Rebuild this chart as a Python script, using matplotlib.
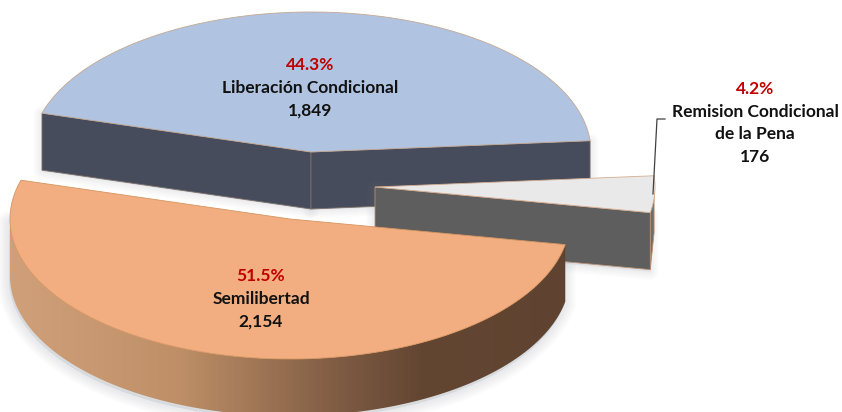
import numpy as np
import matplotlib
matplotlib.use("Agg")
import matplotlib.pyplot as plt
from matplotlib.patches import Polygon
from matplotlib.colors import LinearSegmentedColormap

categories = ["Liberación Condicional", "Remision Condicional\nde la Pena", "Semilibertad"]
values = [1849, 176, 2154]
percent_labels = ["44.3%", "4.2%", "51.5%"]
value_labels = ["1,849", "176", "2,154"]

START = 163.9
A, B, DEPTH = 280, 140, 57
centers = [(311, 152), (375, 187), (290, 219)]
top_colors = ["#b0c4e2", "#e9e9e9", "#f2ae80"]
wall_colors = ["#474c5c", "#5e5e5e", None]
edge_colors = ["#c4a892", "#d6ad90", "#d6955f"]
label_pos = [(310, 65), (755, 89), (261, 276)]

plt.rcParams["font.family"] = ["Lato", "DejaVu Sans"]
fig = plt.figure(figsize=(8.42, 4.12), dpi=100)
ax = fig.add_axes([0, 0, 1, 1])
ax.axis("off")

total = sum(values)
sweeps = [v / total * 360 for v in values]
angles = START - np.concatenate([[0], np.cumsum(sweeps)])


def rim(c, t0, t1, n=160):
    t = np.radians(np.linspace(t0, t1, n))
    return np.column_stack([c[0] + A * np.cos(t), c[1] - B * np.sin(t)])


def down(p):
    return p + np.array([0, DEPTH])


def shadow(pts, dx, dy, z, width=18):
    for w in np.arange(2, width, 3):
        ax.add_patch(Polygon(pts + np.array([dx, dy]), closed=True, facecolor="#808890",
                             edgecolor="#808890", lw=w * 0.72, alpha=0.018,
                             joinstyle="round", zorder=z))


def draw(i, z):
    c = np.array(centers[i], float)
    t0, t1 = angles[i], angles[i + 1]
    arc = rim(c, t0, t1)
    top = np.vstack([[c], arc])

    if i == 0:
        for seg in ([arc[0], c], [c, arc[-1]]):
            seg = np.array(seg)
            wall = np.vstack([seg, down(seg)[::-1]])
            shadow(wall, 0, 1, z)
            ax.add_patch(Polygon(wall, closed=True, facecolor=wall_colors[i],
                                 edgecolor="#7d7069", lw=0.6, zorder=z + 0.2))
    elif i == 1:
        seg = np.array([c, arc[-1]])
        wall = np.vstack([seg, down(seg)[::-1]])
        shadow(wall, 0, 2, z)
        ax.add_patch(Polygon(wall, closed=True, facecolor=wall_colors[i],
                             edgecolor="#b98f72", lw=0.6, zorder=z + 0.2))
        r = np.array([arc[0], arc[-1]])
        side = np.vstack([r, down(r)[::-1]])
        ax.add_patch(Polygon(side, closed=True, facecolor="#6d6d6d",
                             edgecolor="#b98f72", lw=0.6, zorder=z + 0.1))
    else:
        vis = rim(c, t0, -180)
        wall = np.vstack([vis, down(vis)[::-1]])
        shadow(wall, -1, 3, z, width=24)
        cmap = LinearSegmentedColormap.from_list(
            "o", [(0, "#d0a07a"), (0.3, "#bf9068"), (0.6, "#7d5a42"),
                  (0.74, "#634632"), (1, "#5f4330")])
        xmin, xmax = wall[:, 0].min(), wall[:, 0].max()
        im = ax.imshow(np.linspace(0, 1, 256).reshape(1, -1), cmap=cmap, aspect="auto",
                       extent=(xmin, xmax, wall[:, 1].max(), wall[:, 1].min()),
                       zorder=z + 0.2)
        p = Polygon(wall, closed=True, transform=ax.transData, facecolor="none", edgecolor="none")
        ax.add_patch(p)
        im.set_clip_path(p)
    ax.add_patch(Polygon(top, closed=True, facecolor=top_colors[i],
                         edgecolor=edge_colors[i], lw=0.6, zorder=z + 0.5))


draw(0, 1)
draw(1, 2)
draw(2, 3)

ax.plot([665, 657, 653], [119, 119, 194], color="#404040", lw=0.9, zorder=5)

LINE = 22.7
for i in range(3):
    x, y = label_pos[i]
    ax.text(x, y, percent_labels[i], color="#c00000", ha="center", va="center",
            fontsize=12.5, fontweight="bold", zorder=6)
    lines = categories[i].split("\n") + [value_labels[i]]
    for j, s in enumerate(lines, 1):
        ax.text(x, y + j * LINE, s, color="#111111", ha="center", va="center",
                fontsize=12.5, fontweight="bold", zorder=6)

ax.set_xlim(0, 842)
ax.set_ylim(412, 0)
fig.savefig("out.png", dpi=100)
